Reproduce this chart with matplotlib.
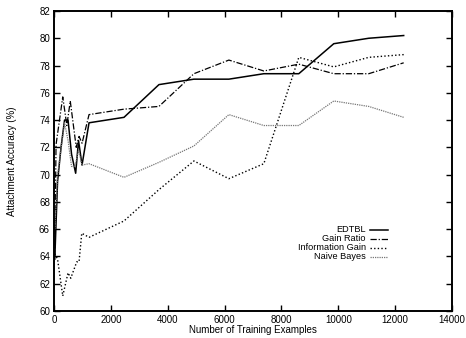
import matplotlib
matplotlib.use("Agg")
import matplotlib.pyplot as plt

plt.rcParams['font.family'] = ['Liberation Sans', 'DejaVu Sans']

edtbl_x = [25, 123, 246, 369, 492, 615, 760, 861, 984, 1230, 2460, 3690, 4920, 6150, 7380, 8610, 9840, 11070, 12300]
edtbl_y = [63.8, 69.5, 72.0, 74.0, 74.0, 71.5, 70.1, 72.5, 70.7, 73.8, 74.2, 76.6, 77.0, 77.0, 77.4, 77.4, 79.6, 80.0, 80.2]

gr_x = [25, 70, 306, 450, 570, 780, 880, 985, 1230, 2460, 3690, 4920, 6150, 7380, 8610, 9840, 11070, 12300]
gr_y = [64.0, 72.2, 75.7, 73.6, 75.4, 72.0, 72.8, 72.3, 74.4, 74.8, 75.0, 77.4, 78.4, 77.6, 78.1, 77.4, 77.4, 78.2]

ig_x = [25, 123, 306, 492, 587, 798, 879, 974, 1230, 2460, 3690, 4920, 6150, 7380, 8610, 9840, 11070, 12300]
ig_y = [64.2, 63.8, 61.1, 62.8, 62.4, 63.6, 63.6, 65.7, 65.4, 66.6, 68.9, 71.0, 69.7, 70.8, 78.6, 77.9, 78.6, 78.8]

nb_x = [25, 123, 369, 492, 615, 738, 861, 984, 1230, 2460, 3690, 4920, 6150, 7380, 8610, 9840, 11070, 12300]
nb_y = [66.0, 70.0, 73.8, 72.5, 70.6, 70.6, 71.8, 70.7, 70.8, 69.8, 70.9, 72.1, 74.4, 73.6, 73.6, 75.4, 75.0, 74.2]

labels = ["EDTBL", "Gain Ratio", "Information Gain", "Naive Bayes"]
x_ticks = list(range(0, 14001, 2000))
y_ticks = list(range(60, 83, 2))

fig = plt.figure(figsize=(4.66, 3.38), dpi=100)
ax = fig.add_axes([0.116, 0.080, 0.854, 0.8875])

ax.plot(edtbl_x, edtbl_y, color='black', lw=1.1, ls='-', label=labels[0])
ax.plot(gr_x, gr_y, color='black', lw=0.9, ls=(0, (5, 1.5, 1, 1.5)), label=labels[1])
ax.plot(ig_x, ig_y, color='black', lw=1.0, ls=(0, (1, 1.6)), label=labels[2])
ax.plot(nb_x, nb_y, color='#777777', lw=0.9, ls=(0, (1, 0.8)), label=labels[3])

ax.set_xlim(0, 14000)
ax.set_ylim(60, 82)
ax.set_xticks(x_ticks)
ax.set_yticks(y_ticks)
ax.tick_params(direction='in', length=4, width=1, top=True, right=True, labelsize=7, pad=3)
for s in ax.spines.values():
    s.set_linewidth(1.4)

ax.set_xlabel("Number of Training Examples", fontsize=7, labelpad=0)
ax.set_ylabel("Attachment Accuracy (%)", fontsize=7, labelpad=16)

leg = ax.legend(loc='lower right', bbox_to_anchor=(0.84, 0.165), frameon=False, fontsize=6.6,
                markerfirst=False, handlelength=2.0, handletextpad=0.45, labelspacing=0.0,
                handleheight=0.5, borderaxespad=0, borderpad=0)

fig.savefig("out.png", dpi=100)
